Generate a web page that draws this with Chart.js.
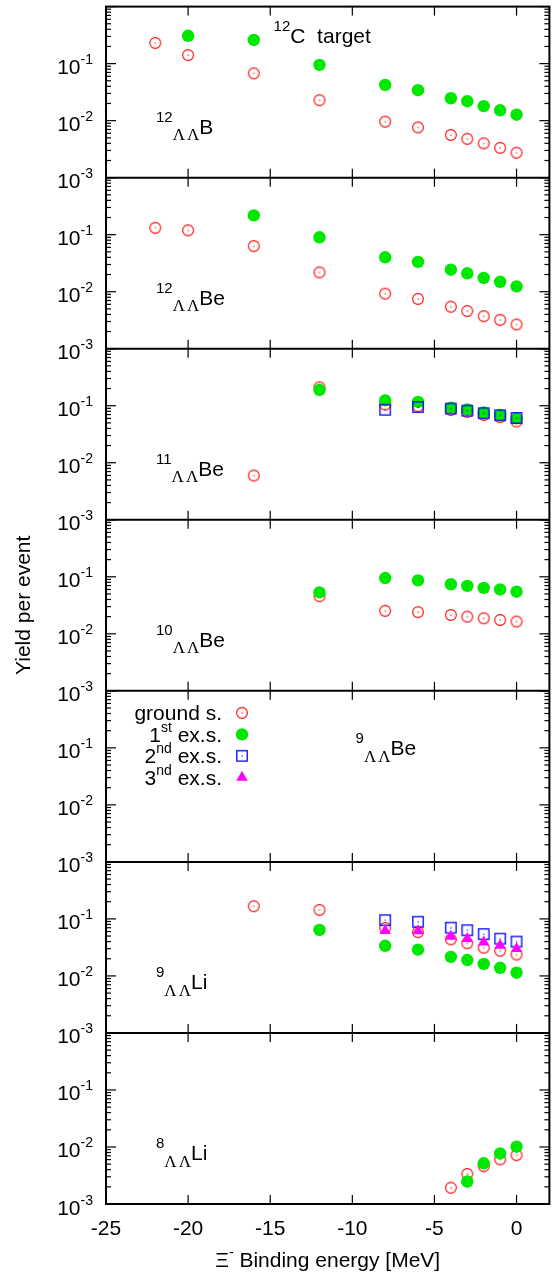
<!DOCTYPE html>
<html>
<head>
<meta charset="utf-8">
<script src="https://cdn.jsdelivr.net/npm/chart.js@4.4.1/dist/chart.umd.min.js"></script>
<style>
html,body{margin:0;padding:0;background:#fff;}
canvas{display:block;}
</style>
</head>
<body>
<canvas id="c" width="556" height="1279"></canvas>
<script>
const SANS = '"Liberation Sans", Arial, Helvetica, sans-serif';
const SERIF = '"Liberation Serif", "Times New Roman", serif';

// ---- x values (Xi- binding energy, MeV) ----
const energy = [-22, -20, -16, -12, -8, -6, -4, -3, -2, -1, 0];
const xTickValues = [-25, -20, -15, -10, -5, 0];
const yDecades = [0.1, 0.01, 0.001];
const yDecadeExps = ['-1', '-2', '-3'];

// ---- panel labels ----
const massNumbers = ['12', '12', '11', '10', '9', '9', '8'];
const elements = ['B', 'Be', 'Be', 'Be', 'Be', 'Li', 'Li'];

// ---- yields per event ----
// 12_LL B
const B12_gs  = [0.231, 0.141, 0.0676, 0.0228, 0.0096, 0.0076, 0.0056, 0.0048, 0.0040, 0.00333, 0.00274];
const B12_ex1 = [null, 0.308, 0.26, 0.095, 0.0422, 0.0342, 0.0247, 0.0219, 0.018, 0.0152, 0.0127];
// 12_LL Be
const Be12_gs  = [0.132, 0.119, 0.063, 0.0218, 0.00924, 0.00748, 0.00545, 0.00458, 0.00371, 0.00321, 0.00266];
const Be12_ex1 = [null, null, 0.218, 0.09, 0.0401, 0.0333, 0.0243, 0.021, 0.0174, 0.0149, 0.0124];
// 11_LL Be
const Be11_gs  = [null, null, 0.00597, 0.21, 0.105, 0.098, 0.084, 0.078, 0.069, 0.063, 0.053];
const Be11_ex1 = [null, null, null, 0.189, 0.124, 0.117, 0.092, 0.086, 0.076, 0.069, 0.06];
const Be11_ex2 = [null, null, null, null, 0.085, 0.095, 0.089, 0.082, 0.074, 0.068, 0.061];
// 10_LL Be
const Be10_gs  = [null, null, null, 0.0456, 0.0253, 0.024, 0.0214, 0.02, 0.0187, 0.0175, 0.0164];
const Be10_ex1 = [null, null, null, 0.0533, 0.095, 0.0866, 0.074, 0.0693, 0.064, 0.06, 0.0548];
// 9_LL Li
const Li9_gs  = [null, null, 0.167, 0.144, 0.0693, 0.0585, 0.0438, 0.0375, 0.0312, 0.0277, 0.0237];
const Li9_ex1 = [null, null, null, 0.064, 0.0338, 0.0289, 0.0216, 0.019, 0.0162, 0.0139, 0.0114];
const Li9_ex2 = [null, null, null, null, 0.095, 0.089, 0.0703, 0.0633, 0.0541, 0.045, 0.04];
const Li9_ex3 = [null, null, null, null, 0.0624, 0.0616, 0.0493, 0.045, 0.039, 0.0342, 0.03];
// 8_LL Li
const Li8_gs  = [null, null, null, null, null, null, 0.00193, 0.00336, 0.0046, 0.00607, 0.0072];
const Li8_ex1 = [null, null, null, null, null, null, null, 0.00248, 0.00518, 0.0077, 0.0101];

const panelSeries = [
  {gs: B12_gs, ex1: B12_ex1},
  {gs: Be12_gs, ex1: Be12_ex1},
  {gs: Be11_gs, ex1: Be11_ex1, ex2: Be11_ex2},
  {gs: Be10_gs, ex1: Be10_ex1},
  {},
  {gs: Li9_gs, ex1: Li9_ex1, ex2: Li9_ex2, ex3: Li9_ex3},
  {gs: Li8_gs, ex1: Li8_ex1}
];
const seriesKeys = ['gs', 'ex1', 'ex2', 'ex3'];
const seriesNames = ['ground s.', '1st ex.s.', '2nd ex.s.', '3nd ex.s.'];

// ---- marker images ----
const RED = '#ff0000', GREEN = '#00e800', BLUE = '#0000ff', MAGENTA = '#ff00ff';
function openCircle(color) {
  const c = document.createElement('canvas'); c.width = c.height = 14;
  const g = c.getContext('2d');
  g.strokeStyle = color; g.lineWidth = 1.1;
  g.beginPath(); g.arc(7, 7, 5.4, 0, Math.PI * 2); g.stroke();
  g.fillStyle = color; g.fillRect(6.5, 6.5, 1.2, 1.2);
  return c;
}
function openSquare(color) {
  const c = document.createElement('canvas'); c.width = c.height = 14;
  const g = c.getContext('2d');
  g.strokeStyle = color; g.lineWidth = 1.3;
  g.strokeRect(1.8, 1.8, 10.4, 10.4);
  g.fillStyle = color; g.fillRect(6.5, 6.5, 1.2, 1.2);
  return c;
}
const styleMap = {
  gs:  {pointStyle: openCircle(RED), pointRadius: 6, pointBackgroundColor: RED, pointBorderColor: RED, pointBorderWidth: 0, order: 4},
  ex1: {pointStyle: 'circle', pointRadius: 6.2, pointBackgroundColor: GREEN, pointBorderColor: GREEN, pointBorderWidth: 0, order: 3},
  ex2: {pointStyle: openSquare(BLUE), pointRadius: 6, pointBackgroundColor: BLUE, pointBorderColor: BLUE, pointBorderWidth: 0, order: 2},
  ex3: {pointStyle: 'triangle', pointRadius: 6.6, pointBackgroundColor: MAGENTA, pointBorderColor: MAGENTA, pointBorderWidth: 0, order: 1}
};

const datasets = [];
panelSeries.forEach((ser, k) => {
  seriesKeys.forEach((key, j) => {
    const arr = ser[key];
    if (!arr) return;
    datasets.push(Object.assign({
      label: seriesNames[j] + ' ' + massNumbers[k] + elements[k],
      data: energy.map((x, i) => ({x: x, y: arr[i]})).filter(p => p.y !== null),
      xAxisID: 'x',
      yAxisID: 'y' + (k + 1),
      showLine: false
    }, styleMap[key]));
  });
});

const scales = {x: {type: 'linear', position: 'bottom', min: -25, max: 2, display: false}};
for (let k = 7; k >= 1; k--) {
  scales['y' + k] = {type: 'logarithmic', position: 'left', min: 0.001, max: 1,
    stack: 'panels', stackWeight: 1, display: false};
}

function rich(ctx, x, y, parts, align) {
  let w = 0;
  parts.forEach(p => {
    if (p.gap) { p.w = p.gap; }
    else { ctx.font = (p.s || 21) + 'px ' + (p.f || SANS); p.w = ctx.measureText(p.t).width; }
    w += p.w;
  });
  let cx = align === 'right' ? x - w : align === 'center' ? x - w / 2 : x;
  ctx.textAlign = 'left';
  ctx.textBaseline = 'alphabetic';
  parts.forEach(p => {
    if (!p.gap) {
      ctx.font = (p.s || 21) + 'px ' + (p.f || SANS);
      ctx.fillText(p.t, cx, y + (p.dy || 0));
    }
    cx += p.w;
  });
}

const framePlugin = {
  id: 'frame',
  afterDatasetsDraw(chart) {
    const ctx = chart.ctx, a = chart.chartArea, xs = chart.scales.x;
    ctx.save();
    ctx.strokeStyle = '#000';
    ctx.fillStyle = '#000';
    const line = (x1, y1, x2, y2) => { ctx.beginPath(); ctx.moveTo(x1, y1); ctx.lineTo(x2, y2); ctx.stroke(); };
    ctx.lineWidth = 1.2;
    for (let k = 1; k <= 7; k++) {
      const s = chart.scales['y' + k];
      for (let e = -3; e <= 0; e++) {
        for (let m = 1; m <= 9; m++) {
          const v = m * Math.pow(10, e);
          if (v > 1.0000001) continue;
          const py = s.getPixelForValue(v);
          const len = m === 1 ? 10 : 5;
          line(a.left, py, a.left + len, py);
          line(a.right, py, a.right - len, py);
        }
      }
      xTickValues.forEach(t => {
        const px = xs.getPixelForValue(t);
        line(px, s.top, px, s.top + 9);
        line(px, s.bottom, px, s.bottom - 9);
      });
    }
    ctx.lineWidth = 2;
    ctx.strokeRect(a.left, a.top, a.right - a.left, a.bottom - a.top);
    for (let k = 1; k <= 6; k++) {
      const b = chart.scales['y' + k].bottom;
      line(a.left, b, a.right, b);
    }
    // y tick labels
    for (let k = 1; k <= 7; k++) {
      const s = chart.scales['y' + k];
      yDecades.forEach((v, i) => {
        const py = s.getPixelForValue(v);
        rich(ctx, a.left - 13, py + 10.5, [{t: '10', s: 21}, {t: yDecadeExps[i], s: 14, dy: -10}], 'right');
      });
    }
    // x tick labels
    ctx.font = '21px ' + SANS;
    ctx.textAlign = 'center';
    ctx.textBaseline = 'alphabetic';
    xTickValues.forEach(t => ctx.fillText(String(t), xs.getPixelForValue(t), a.bottom + 31));
    // axis titles
    rich(ctx, (a.left + a.right) / 2, a.bottom + 63, [{t: 'Ξ', s: 21}, {t: '-', s: 14, dy: -10}, {t: ' Binding energy [MeV]', s: 21}], 'center');
    ctx.save();
    ctx.translate(29.5, (a.top + a.bottom) / 2);
    ctx.rotate(-Math.PI / 2);
    ctx.font = '21px ' + SANS;
    ctx.textAlign = 'center';
    ctx.fillText('Yield per event', 0, 0);
    ctx.restore();
    // panel labels
    for (let k = 1; k <= 7; k++) {
      const s = chart.scales['y' + k];
      const x0 = k === 5 ? 355.6 : 156;
      const y0 = s.top + (k === 5 ? 64 : 127);
      rich(ctx, x0, y0, [
        {t: massNumbers[k - 1], s: 15, dy: -11.6},
        {t: 'Λ', s: 17, f: SERIF, dy: 6.7}, {gap: 2}, {t: 'Λ', s: 17, f: SERIF, dy: 6.7},
        {t: elements[k - 1], s: 21}
      ], 'left');
    }
    // target label
    rich(ctx, 273.6, chart.scales.y1.top + 36, [{t: '12', s: 15, dy: -11.6}, {t: 'C', s: 21}, {t: '  target', s: 21}], 'left');
    // legend in panel 5
    const s5 = chart.scales.y5;
    const legendParts = [
      [{t: 'ground s.'}],
      [{t: '1'}, {t: 'st', s: 14, dy: -10}, {t: ' ex.s.'}],
      [{t: '2'}, {t: 'nd', s: 14, dy: -10}, {t: ' ex.s.'}],
      [{t: '3'}, {t: 'nd', s: 14, dy: -10}, {t: ' ex.s.'}]
    ];
    const legendOffsets = [22, 43.5, 65, 86.5];
    legendParts.forEach((parts, i) => {
      const ly = s5.top + legendOffsets[i];
      rich(ctx, 222, ly + 7.5, parts, 'right');
      const st = styleMap[seriesKeys[i]];
      ctx.fillStyle = st.pointBackgroundColor;
      ctx.strokeStyle = st.pointBorderColor;
      Chart.helpers.drawPoint(ctx, {pointStyle: st.pointStyle, radius: st.pointRadius, borderWidth: 0, rotation: 0}, 242, ly);
      ctx.fillStyle = '#000';
      ctx.strokeStyle = '#000';
    });
    ctx.restore();
  }
};

new Chart(document.getElementById('c'), {
  type: 'scatter',
  data: {datasets: datasets},
  options: {
    responsive: false,
    devicePixelRatio: 1,
    animation: false,
    layout: {padding: {left: 106, top: 4, right: 1, bottom: 75}},
    scales: scales,
    plugins: {legend: {display: false}, tooltip: {enabled: false}, title: {display: false}}
  },
  plugins: [framePlugin]
});
</script>
</body>
</html>
